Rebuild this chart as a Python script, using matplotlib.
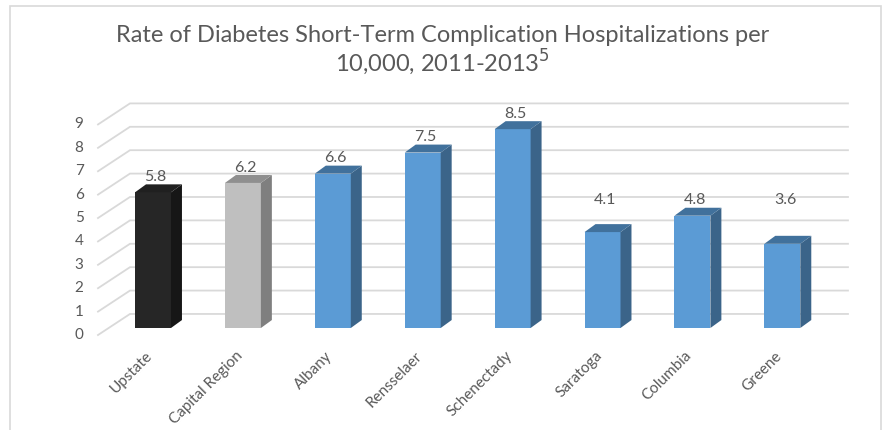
import matplotlib.pyplot as plt
from matplotlib.patches import Polygon, Rectangle

# Data
categories = ['Upstate', 'Capital Region', 'Albany', 'Rensselaer', 'Schenectady',
              'Saratoga', 'Columbia', 'Greene']
rates = [5.8, 6.2, 6.6, 7.5, 8.5, 4.1, 4.8, 3.6]
yticks = list(range(0, 10))

front_colors = ['#262626', '#bfbfbf'] + ['#5b9bd5'] * 6
side_colors = ['#161616', '#7f7f7f'] + ['#3b6489'] * 6
top_colors = ['#202020', '#8f8f8f'] + ['#41719c'] * 6

plt.rcParams['font.family'] = ['Lato', 'DejaVu Sans']
txt = '#595959'
grid = '#d9d9d9'

fig = plt.figure(figsize=(8.85, 4.3), dpi=100)
ax = fig.add_axes([0, 0, 1, 1])
# one x unit = one category slot, one y unit = one rate unit
ax.set_xlim(-1.702, 8.142)
ax.set_ylim(-4.06, 14.32)
ax.axis('off')

# 3D offsets
wall_dx, wall_dy = 0.356, 0.9     # front plane -> back wall
front_x = -0.612                  # left edge of the floor/side wall
bar_dy = 0.3                      # bars sit slightly behind the front plane
bw = 0.4
dx, dy = 0.122, 0.34              # bar depth
right_x = 7.73

# side wall diagonals + back wall gridlines
for t in yticks:
    ax.plot([front_x, front_x + wall_dx, right_x], [t, t + wall_dy, t + wall_dy],
            color=grid, lw=1.3, zorder=1, solid_joinstyle='miter')
    ax.text(front_x - 0.21, t, str(t), ha='center', va='center', fontsize=11, color=txt)

for i, (cat, v) in enumerate(zip(categories, rates)):
    x0 = i - bw / 2
    y0 = bar_dy
    y1 = bar_dy + v
    ax.add_patch(Rectangle((x0, y0), bw, v, facecolor=front_colors[i], edgecolor='none', zorder=3))
    ax.add_patch(Polygon([(x0 + bw, y0), (x0 + bw + dx, y0 + dy), (x0 + bw + dx, y1 + dy),
                          (x0 + bw, y1)], closed=True, facecolor=side_colors[i],
                         edgecolor='none', zorder=3))
    ax.add_patch(Polygon([(x0, y1), (x0 + bw, y1), (x0 + bw + dx, y1 + dy), (x0 + dx, y1 + dy)],
                         closed=True, facecolor=top_colors[i], edgecolor='none', zorder=3))
    ax.text(i + 0.03, max(v + 0.95, 5.77), f'{v}', ha='center', va='center',
            fontsize=11.5, color=txt, zorder=4)
    ax.text(i - 0.03, -0.8, cat, rotation=45, rotation_mode='anchor', ha='right',
            va='center', fontsize=11, color=txt)

fig.text(0.5, 1 - 35 / 430, 'Rate of Diabetes Short-Term Complication Hospitalizations per',
         ha='center', va='center', fontsize=17, color=txt)
fig.text(0.5, 1 - 62 / 430, r'10,000, 2011-2013$^{5}$', ha='center', va='center',
         fontsize=17, color=txt)

# chart border
fig.patches.append(Rectangle((10 / 885, -0.05), 871 / 885, 1 - 6 / 430 + 0.05,
                             transform=fig.transFigure, fill=False, edgecolor=grid, lw=1.2))

fig.savefig('out.png', dpi=100)
